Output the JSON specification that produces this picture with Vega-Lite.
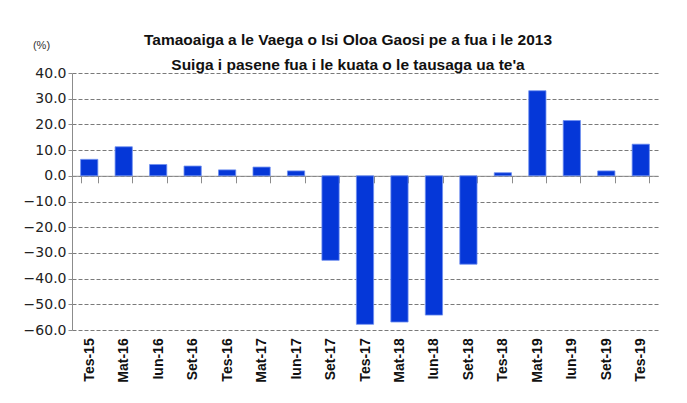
{
  "$schema": "https://vega.github.io/schema/vega-lite/v6.json",
  "autosize": {"type": "none"},
  "width": 586,
  "height": 257,
  "padding": {"left": 72, "top": 73, "right": 29, "bottom": 73},
  "background": "white",
  "title": {
    "text": ["Tamaoaiga a le Vaega o Isi Oloa Gaosi pe a fua i le 2013", "Suiga i pasene fua i le kuata o le tausaga ua te'a"],
    "font": "Liberation Sans",
    "fontSize": 15.5,
    "fontWeight": "bold",
    "color": "#111111",
    "anchor": "middle",
    "frame": "group",
    "dx": -17,
    "offset": -34,
    "lineHeight": 25
  },
  "data": {
    "values": [
      {"q": "Tes-15", "v": 6.4},
      {"q": "Mat-16", "v": 11.3},
      {"q": "Iun-16", "v": 4.4},
      {"q": "Set-16", "v": 3.8},
      {"q": "Tes-16", "v": 2.3},
      {"q": "Mat-17", "v": 3.4},
      {"q": "Iun-17", "v": 1.9},
      {"q": "Set-17", "v": -32.9},
      {"q": "Tes-17", "v": -57.8},
      {"q": "Mat-18", "v": -56.9},
      {"q": "Iun-18", "v": -54.2},
      {"q": "Set-18", "v": -34.4},
      {"q": "Tes-18", "v": 1.2},
      {"q": "Mat-19", "v": 33.1},
      {"q": "Iun-19", "v": 21.5},
      {"q": "Set-19", "v": 1.9},
      {"q": "Tes-19", "v": 12.3}
    ]
  },
  "mark": {"type": "bar", "color": "#0537d8", "stroke": "#6f8ff0", "strokeWidth": 0.8},
  "encoding": {
    "x": {
      "field": "q",
      "type": "nominal",
      "sort": null,
      "scale": {"paddingInner": 0.5, "paddingOuter": 0.25},
      "axis": {
        "title": null,
        "offset": -154.2,
        "domainColor": "#8c8c8c",
        "domainWidth": 1,
        "tickColor": "#8c8c8c",
        "tickSize": 7,
        "tickBand": "extent",
        "labelAngle": -90,
        "labelAlign": "right",
        "labelBaseline": "middle",
        "labelPadding": 155,
        "labelFont": "Liberation Sans",
        "labelFontSize": 14,
        "labelFontWeight": "bold",
        "labelColor": "#111111"
      }
    },
    "y": {
      "field": "v",
      "type": "quantitative",
      "scale": {"domain": [-60, 40], "nice": false},
      "axis": {
        "values": [-60, -50, -40, -30, -20, -10, 0, 10, 20, 30, 40],
        "format": ".1f",
        "title": "(%)",
        "titleAngle": 0,
        "titleX": -31,
        "titleY": -28,
        "titleAlign": "center",
        "titleBaseline": "middle",
        "titleFont": "Liberation Sans",
        "titleFontSize": 11,
        "titleFontWeight": "normal",
        "titleColor": "#333333",
        "domainColor": "#8c8c8c",
        "tickColor": "#8c8c8c",
        "tickSize": 4,
        "labelPadding": 2,
        "labelFont": "DejaVu Sans",
        "labelFontSize": 14,
        "labelColor": "#222222",
        "gridColor": "#7a7a7a",
        "gridDash": [4, 2],
        "gridWidth": 1
      }
    }
  },
  "config": {"view": {"stroke": null}}
}
